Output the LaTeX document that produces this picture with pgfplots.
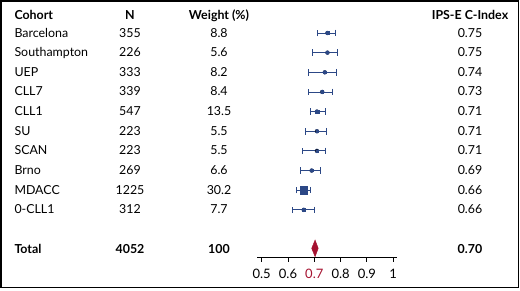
\documentclass[border=0pt]{standalone}
\usepackage{pgfplots}
\pgfplotsset{compat=1.18}
\usepackage{pgfplotstable}
\usepackage{fontspec}
\setmainfont{Lato}
\definecolor{navy}{RGB}{44,72,134}
\definecolor{dred}{RGB}{165,18,48}
\newcommand\tf{\fontsize{12.4bp}{14bp}\selectfont}

% row position (12 = first cohort), C-index, CI low, CI high, marker half-size (bp)
\pgfplotstableread{
row x lo hi ms
12 0.75 0.711 0.780 1.5
11 0.75 0.691 0.786 1.0
10 0.74 0.677 0.783 1.3
9  0.73 0.677 0.768 1.3
8  0.71 0.684 0.742 1.8
7  0.71 0.665 0.746 1.0
6  0.71 0.653 0.744 1.0
5  0.69 0.648 0.722 1.1
4  0.66 0.633 0.684 3.8
3  0.66 0.618 0.700 1.2
}\cohorts

\begin{document}
\begin{tikzpicture}[x=1bp,y=1bp]
\useasboundingbox (0,0) rectangle (520,290);
\begin{axis}[
  at={(257.3bp,32.5bp)}, anchor=south west,
  scale only axis, width=139.4bp, height=257.5bp,
  xmin=0.4833, xmax=1.0133, ymin=0.575, ymax=13.679,
  axis y line=none, axis x line=bottom,
  x axis line style={-, line width=1pt},
  xtick={0.5,0.6,0.7,0.8,0.9,1},
  xticklabels={0.5,0.6,\textcolor{dred}{0.7},0.8,0.9,1},
  tick align=outside, major tick length=4bp,
  xtick style={black, line width=1pt},
  xticklabel style={font=\fontsize{13bp}{14bp}\selectfont, yshift=-4.5bp},
  clip=false,
]
\addplot[only marks, mark=none, draw=navy,
  error bars/.cd, x dir=both, x explicit,
  error mark=|, error bar style={navy, line width=0.8pt},
  error mark options={mark size=3.3bp, navy, line width=0.8pt}]
  table[x=x, y=row, x error plus expr=\thisrow{hi}-\thisrow{x},
        x error minus expr=\thisrow{x}-\thisrow{lo}] {\cohorts};
\addplot[scatter, only marks, mark=square*, point meta=\thisrow{ms},
  scatter/use mapped color={draw=navy, fill=navy},
  visualization depends on={\thisrow{ms} \as \ms},
  scatter/@pre marker code/.append style={/tikz/mark size=\ms}]
  table[x=x, y=row] {\cohorts};
\addplot[fill=dred, draw=dred] coordinates {(0.690,1.04) (0.703,1.466) (0.715,1.04) (0.703,0.616)} -- cycle;
\end{axis}
\draw[line width=1.6bp] (1,2.5) rectangle (518.5,289);
\node[anchor=base west, font=\tf\bfseries] at (11,271) {Cohort};
\node[anchor=base, font=\tf\bfseries] at (130,271) {N};
\node[anchor=base, font=\tf\bfseries] at (219,271) {Weight (\%)};
\node[anchor=base, font=\tf\bfseries] at (470,271) {IPS-E C-Index};
\foreach \name/\n/\w/\c [count=\i] in {Barcelona/355/8.8/0.75, Southampton/226/5.6/0.75, UEP/333/8.2/0.74, CLL7/339/8.4/0.73, CLL1/547/13.5/0.71, SU/223/5.5/0.71, SCAN/223/5.5/0.71, Brno/269/6.6/0.69, MDACC/1225/30.2/0.66, 0-CLL1/312/7.7/0.66}{
  \node[anchor=base west, font=\tf] at (11,{253-19.65*(\i-1)}) {\name};
  \node[anchor=base, font=\tf] at (130,{253-19.65*(\i-1)}) {\n};
  \node[anchor=base, font=\tf] at (219,{253-19.65*(\i-1)}) {\w};
  \node[anchor=base, font=\tf] at (470,{253-19.65*(\i-1)}) {\c};
}
\node[anchor=base west, font=\tf\bfseries] at (11,37) {Total};
\node[anchor=base, font=\tf\bfseries] at (130,37) {4052};
\node[anchor=base, font=\tf\bfseries] at (219,37) {100};
\node[anchor=base, font=\tf\bfseries] at (470,37) {0.70};
\end{tikzpicture}
\end{document}
